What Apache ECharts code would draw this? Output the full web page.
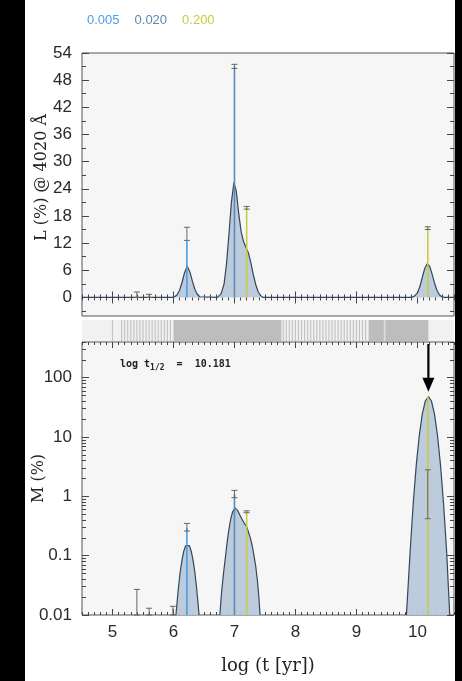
<!DOCTYPE html>
<html><head><meta charset="utf-8">
<script src="https://cdn.jsdelivr.net/npm/echarts@6/dist/echarts.min.js"></script>
<style>html,body{margin:0;padding:0;background:#fff;}#c{width:462px;height:681px;}</style>
</head><body><div id="c"></div>
<script>
// ---------------- data ----------------
const zLabels = ['0.005', '0.020', '0.200'];
const zColors = ['#4a9ee3', '#5b88b6', '#c9cc3e'];

// light-fraction components (top panel)
const compAge = [6.22, 7.00, 7.20, 10.17];
const compZ   = ['0.005', '0.020', '0.200', '0.200'];
const compL   = [12.6, 51.0, 19.8, 15.3];   // L (%) @ 4020 A
const compM   = [0.29, 1.10, 0.55, 48.0];   // M (%)

// error bars
const errAgeL = [5.40, 5.60, 6.22, 7.00, 7.20, 10.17];
const errLoL  = [0.0, 0.0, 12.6, 50.6, 19.5, 15.0];
const errHiL  = [1.2, 0.7, 15.5, 51.5, 20.1, 15.6];
const errAgeM = [5.40, 5.60, 5.99, 6.22, 7.00, 7.20, 10.17];
const errLoM  = [0.01, 0.01, 0.01, 0.26, 0.95, 0.53, 0.42];
const errHiM  = [0.027, 0.013, 0.014, 0.35, 1.26, 0.57, 2.8];

// smoothed light distribution (top panel)
const curveL = [
  [4.50,0],[5.98,0],[6.02,0.15],[6.06,0.6],[6.10,1.6],[6.14,3.3],[6.18,5.4],[6.225,6.9],
  [6.27,5.6],[6.31,3.6],[6.35,1.8],[6.39,0.7],[6.43,0.15],[6.46,0],
  [6.72,0],[6.78,0.8],[6.83,3.0],[6.87,7.5],[6.91,14.0],[6.95,21.0],[6.99,25.4],[7.03,23.5],
  [7.07,18.5],[7.11,14.5],[7.15,12.3],[7.19,11.0],[7.23,9.8],[7.27,7.6],[7.31,5.0],[7.35,2.8],
  [7.39,1.2],[7.43,0.4],[7.47,0],
  [9.90,0],[9.95,0.3],[10.00,1.0],[10.04,2.4],[10.08,4.4],[10.12,6.4],[10.16,7.45],[10.20,6.9],
  [10.24,5.2],[10.28,3.2],[10.32,1.6],[10.36,0.6],[10.40,0.15],[10.44,0],[10.60,0]
];

// smoothed mass distribution (bottom panel, log scale)
const massBump1 = [
  [6.04,0.01],[6.08,0.028],[6.11,0.053],[6.14,0.085],[6.17,0.12],[6.20,0.148],[6.23,0.158],
  [6.26,0.148],[6.29,0.12],[6.32,0.085],[6.35,0.053],[6.38,0.028],[6.42,0.01]
];
const massBump2 = [
  [6.76,0.01],[6.79,0.025],[6.82,0.05],[6.85,0.09],[6.88,0.17],[6.91,0.28],[6.94,0.42],[6.97,0.55],
  [7.01,0.64],[7.05,0.58],[7.09,0.48],[7.13,0.40],[7.17,0.34],[7.20,0.31],[7.23,0.25],[7.26,0.20],
  [7.29,0.15],[7.32,0.10],[7.35,0.065],[7.38,0.035],[7.40,0.02],[7.42,0.01]
];
const massBump3 = [
  [9.82,0.01],[9.88,0.113],[9.93,0.72],[9.98,3.26],[10.03,10.5],[10.08,24.4],[10.13,40.5],[10.18,48],
  [10.23,40.5],[10.28,24.4],[10.33,10.5],[10.38,3.26],[10.43,0.72],[10.48,0.113],[10.53,0.01]
];

// base SSP age grid strip
const stripSolid = [[6.00,7.77],[9.20,9.45],[9.48,10.18]];
const stripLines = [5.00,5.15,5.20,5.25,5.30,5.35,5.40,5.45,5.50,5.55,5.60,5.65,5.70,5.75,5.80,5.85,5.90,5.95,
  7.80,7.85,7.90,7.95,8.00,8.05,8.10,8.15,8.20,8.25,8.30,8.35,8.40,8.45,8.50,8.55,8.60,8.65,8.70,8.75,
  8.80,8.85,8.90,8.95,9.00,9.05,9.10,9.15,9.47];

const halfLifeText = '10.181';
const arrowAge = 10.18, arrowTipM = 58;

// tick labels
const xTicks = [5,6,7,8,9,10];
const lTicks = [0,6,12,18,24,30,36,42,48,54];
const mTicks = [0.01,0.1,1,10,100];

// ---------------- layout ----------------
const X_MIN = 4.5, X_MAX = 10.6;
const L_MIN = -4.1, L_MAX = 54;
const M_MIN = 0.01, M_MAX = 400;

const xMinor = [];
for (let i = 45; i <= 106; i++) if (i % 10 !== 0) xMinor.push(i / 10);
const lMinor = [];
for (let v = -3; v < 54; v += 6) lMinor.push(v);
const mMinor = [];
mTicks.forEach(d => { for (let k = 2; k <= 9; k++) if (k * d <= M_MAX) mMinor.push(+(k * d).toPrecision(3)); });

const tickCol = '#444';
const sansFont = 'Liberation Sans';
const serifFont = 'DejaVu Serif';

function xAxis(grid, pos, ticks, len, showLabels) {
  return {
    type: 'value', gridIndex: grid, position: pos, min: X_MIN, max: X_MAX,
    axisLine: {show: false}, splitLine: {show: false},
    axisTick: {show: true, inside: true, length: len, customValues: ticks, lineStyle: {color: tickCol, width: 1}},
    axisLabel: showLabels ? {show: true, customValues: ticks, margin: 9, fontFamily: sansFont, fontSize: 17, color: '#2a2a2a'} : {show: false}
  };
}
function yAxis(grid, pos, type, min, max, ticks, len, showLabels, fmt) {
  return {
    type: type, gridIndex: grid, position: pos, min: min, max: max,
    axisLine: {show: false}, splitLine: {show: false},
    axisTick: {show: true, inside: true, length: len, customValues: ticks, lineStyle: {color: tickCol, width: 1}},
    axisLabel: showLabels ? {show: true, customValues: ticks, margin: 10, fontFamily: sansFont, fontSize: 17, color: '#2a2a2a', formatter: fmt} : {show: false}
  };
}

const xAxes = [
  xAxis(0, 'bottom', xTicks, 6, false), xAxis(0, 'bottom', xMinor, 3, false),
  xAxis(0, 'top', xTicks, 6, false), xAxis(0, 'top', xMinor, 3, false),
  {type: 'value', gridIndex: 1, min: X_MIN, max: X_MAX, show: false},
  xAxis(2, 'bottom', xTicks, 6, true), xAxis(2, 'bottom', xMinor, 3, false),
  xAxis(2, 'top', xTicks, 6, false), xAxis(2, 'top', xMinor, 3, false)
];
const mFmt = v => String(+(+v).toPrecision(3));
const yAxes = [
  yAxis(0, 'left', 'value', L_MIN, L_MAX, lTicks, 7, true),
  yAxis(0, 'left', 'value', L_MIN, L_MAX, lMinor, 4, false),
  yAxis(0, 'right', 'value', L_MIN, L_MAX, lTicks, 7, false),
  yAxis(0, 'right', 'value', L_MIN, L_MAX, lMinor, 4, false),
  {type: 'value', gridIndex: 1, min: 0, max: 1, show: false},
  yAxis(2, 'left', 'log', M_MIN, M_MAX, mTicks, 7, true, mFmt),
  yAxis(2, 'left', 'log', M_MIN, M_MAX, mMinor, 4, false),
  yAxis(2, 'right', 'log', M_MIN, M_MAX, mTicks, 7, false),
  yAxis(2, 'right', 'log', M_MIN, M_MAX, mMinor, 4, false)
];
Object.assign(yAxes[0], {
  name: 'L (%) @ 4020 Å', nameLocation: 'middle', nameGap: 32, nameMoveOverlap: false,
  nameTextStyle: {fontFamily: serifFont, fontSize: 16, color: '#222', padding: [0, 0, 0, 14]}
});
Object.assign(yAxes[5], {
  name: 'M (%)', nameLocation: 'middle', nameGap: 35, nameMoveOverlap: false,
  nameTextStyle: {fontFamily: serifFont, fontSize: 16, color: '#222'}
});
Object.assign(xAxes[5], {
  name: 'log (t [yr])', nameLocation: 'middle', nameGap: 42, nameMoveOverlap: false,
  nameTextStyle: {fontFamily: serifFont, fontSize: 18, color: '#222'}
});

// ---------------- series helpers ----------------
const stemData = (vals) => compAge.map((a, i) => [a, vals[i], zLabels.indexOf(compZ[i])]);
function stemRender(base) {
  return function (params, api) {
    const x = api.value(0), y = api.value(1), c = api.value(2);
    const p0 = api.coord([x, base]), p1 = api.coord([x, y]);
    return {type: 'line', shape: {x1: p0[0], y1: p0[1], x2: p1[0], y2: p1[1]},
      style: {stroke: zColors[c], lineWidth: 1.6}};
  };
}
function errRender(params, api) {
  const x = api.value(0);
  const p0 = api.coord([x, api.value(1)]), p1 = api.coord([x, api.value(2)]);
  const w = 3;
  return {type: 'group', children: [
    {type: 'line', shape: {x1: p0[0], y1: p0[1], x2: p1[0], y2: p1[1]}, style: {stroke: '#666', lineWidth: 1}},
    {type: 'line', shape: {x1: p0[0] - w, y1: p0[1], x2: p0[0] + w, y2: p0[1]}, style: {stroke: '#666', lineWidth: 1}},
    {type: 'line', shape: {x1: p1[0] - w, y1: p1[1], x2: p1[0] + w, y2: p1[1]}, style: {stroke: '#666', lineWidth: 1}}
  ]};
}
const areaSeries = (data, xi, yi, origin) => ({
  type: 'line', xAxisIndex: xi, yAxisIndex: yi, data: data, showSymbol: false, silent: true,
  lineStyle: {color: '#34465a', width: 1.2},
  areaStyle: {color: '#b8c9da', opacity: 0.95, origin: origin}, z: 2
});

const stripData = stripSolid.map(r => [r[0], r[1], 1]).concat(stripLines.map(v => [v, v, 0]));

const option = {
  animation: false,
  backgroundColor: '#fff',
  title: {
    text: '{a|0.005}   {b|0.020}   {c|0.200}', left: 82, top: 6,
    textStyle: {rich: {
      a: {color: zColors[0], fontFamily: sansFont, fontSize: 13, fontWeight: 'normal'},
      b: {color: zColors[1], fontFamily: sansFont, fontSize: 13, fontWeight: 'normal'},
      c: {color: zColors[2], fontFamily: sansFont, fontSize: 13, fontWeight: 'normal'}
    }}
  },
  grid: [
    {left: 82, right: 8, top: 53, height: 263, show: true, backgroundColor: '#f6f6f6', borderColor: '#555', borderWidth: 1},
    {left: 82, right: 8, top: 320, height: 21, show: true, backgroundColor: '#f1f1f1', borderWidth: 0},
    {left: 82, right: 8, top: 342, height: 273, show: true, backgroundColor: '#f6f6f6', borderColor: '#555', borderWidth: 1}
  ],
  xAxis: xAxes,
  yAxis: yAxes,
  graphic: [
    {type: 'rect', left: 0, top: 0, shape: {width: 25, height: 681}, style: {fill: '#000'}, z: 100},
    {type: 'rect', left: 455, top: 0, shape: {width: 7, height: 681}, style: {fill: '#000'}, z: 100},
    {type: 'text', left: 120, top: 359, z: 50, style: {
      text: '{n|log t}{s|1/2}{n|  =  ' + halfLifeText + '}',
      rich: {n: {fontFamily: 'DejaVu Sans Mono', fontSize: 10, fill: '#222', fontWeight: 'bold'},
             s: {fontFamily: 'DejaVu Sans Mono', fontSize: 8, fill: '#222', padding: [7, 0, 0, 0], fontWeight: 'bold'}}
    }}
  ],
  series: [
    areaSeries(curveL, 0, 0, 0),
    {type: 'custom', xAxisIndex: 0, yAxisIndex: 0, data: stemData(compL), renderItem: stemRender(0), z: 3, silent: true},
    {type: 'custom', xAxisIndex: 0, yAxisIndex: 0, data: errAgeL.map((a, i) => [a, errLoL[i], errHiL[i]]), renderItem: errRender, z: 4, silent: true},
    {type: 'custom', xAxisIndex: 4, yAxisIndex: 4, data: stripData, silent: true,
      renderItem: function (params, api) {
        const s = api.value(0), e = api.value(1), solid = api.value(2);
        const p0 = api.coord([s, 1]), p1 = api.coord([e, 0]);
        const w = Math.max(p1[0] - p0[0], 1.2);
        return {type: 'rect', shape: {x: p0[0] - (solid ? 0 : 0.6), y: p0[1], width: w, height: p1[1] - p0[1]},
          style: {fill: solid ? '#bdbdbd' : '#c4c4c4'}};
      }},
    areaSeries(massBump1, 5, 5, 'start'),
    areaSeries(massBump2, 5, 5, 'start'),
    areaSeries(massBump3, 5, 5, 'start'),
    {type: 'custom', xAxisIndex: 5, yAxisIndex: 5, data: stemData(compM), renderItem: stemRender(M_MIN), z: 3, silent: true},
    {type: 'custom', xAxisIndex: 5, yAxisIndex: 5, data: errAgeM.map((a, i) => [a, errLoM[i], errHiM[i]]), renderItem: errRender, z: 4, silent: true},
    {type: 'custom', xAxisIndex: 5, yAxisIndex: 5, data: [[arrowAge, arrowTipM]], z: 6, silent: true,
      renderItem: function (params, api) {
        const tip = api.coord([api.value(0), api.value(1)]);
        const top = api.coord([api.value(0), M_MAX]);
        return {type: 'group', children: [
          {type: 'line', shape: {x1: top[0], y1: top[1] + 2, x2: tip[0], y2: tip[1] - 8}, style: {stroke: '#000', lineWidth: 2.2}},
          {type: 'polygon', shape: {points: [[tip[0] - 6, tip[1] - 14], [tip[0] + 6, tip[1] - 14], [tip[0], tip[1]]]}, style: {fill: '#000'}}
        ]};
      }}
  ]
};
echarts.init(document.getElementById('c')).setOption(option);
</script></body></html>
